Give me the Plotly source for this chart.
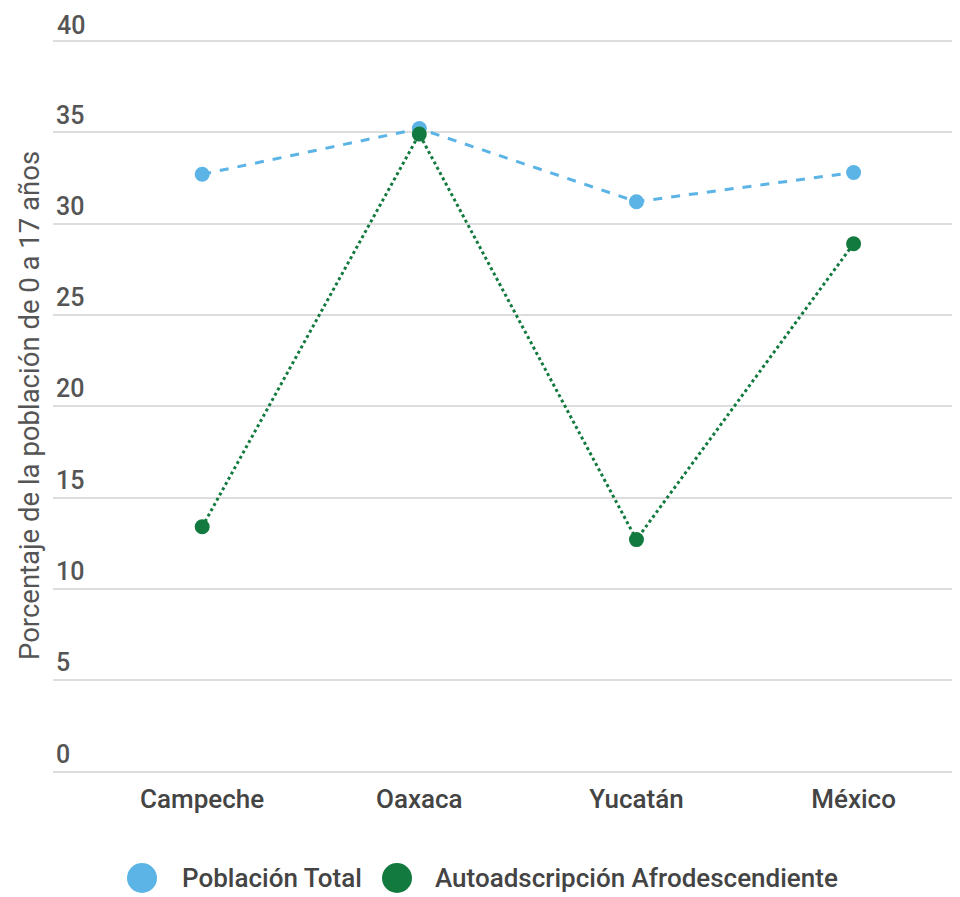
import plotly.graph_objects as go

categories = ["Campeche", "Oaxaca", "Yucatán", "México"]
poblacion_total = [32.7, 35.2, 31.2, 32.8]
afrodescendiente = [13.4, 34.9, 12.7, 28.9]
y_ticks = [0, 5, 10, 15, 20, 25, 30, 35, 40]
series_names = ["Población Total", "Autoadscripción Afrodescendiente"]

BLUE = "#5BB4E5"
GREEN = "#127A3E"
FONT = "Roboto, sans-serif"

# page is offset 8px by the browser's default body margin
W, H = 952, 889
ML, MR, MT, MB = 45, 0, 4, 124
PW, PH = W - ML - MR, H - MT - MB
Y_TOP = 40 + 29 / 18.3


def px_x(x):
    return (x - ML) / PW


def px_y(y):
    return (H - MB - y) / PH


fig = go.Figure()
fig.add_trace(go.Scatter(x=categories, y=poblacion_total, mode="lines+markers", name=series_names[0],
                         line=dict(color=BLUE, dash="dash", width=3),
                         marker=dict(color=BLUE, size=15), showlegend=False))
fig.add_trace(go.Scatter(x=categories, y=afrodescendiente, mode="lines+markers", name=series_names[1],
                         line=dict(color=GREEN, dash="dot", width=3),
                         marker=dict(color=GREEN, size=15), showlegend=False))

TICK_FONT = dict(size=25, color="#555555", weight=500, family=FONT)

fig.update_layout(
    width=W, height=H,
    margin=dict(l=ML, r=MR, t=MT, b=MB),
    plot_bgcolor="white", paper_bgcolor="white",
    font=dict(family=FONT, size=24, color="#555555"),
    showlegend=False,
    xaxis=dict(type="category", range=[-0.687, 3.49], showgrid=False, zeroline=False,
               showline=False, ticks="", ticklabelstandoff=8,
               tickfont=dict(size=26, color="#444444", weight=500)),
    yaxis=dict(range=[-0.08, Y_TOP], tickvals=y_ticks, ticklabelposition="inside top",
               showgrid=True, gridcolor="#DDDDDD", gridwidth=1.5, zeroline=False,
               showline=False, tickfont=TICK_FONT),
)

# the top tick label sits too close to the edge for plotly to keep it; place it explicitly
fig.add_annotation(text=str(y_ticks[-1]), xref="paper", yref="y", x=0, y=y_ticks[-1],
                   xanchor="left", yanchor="bottom", xshift=2, yshift=-1, showarrow=False,
                   font=TICK_FONT)

# y-axis title
fig.add_annotation(text="Porcentaje de la población de 0 a 17 años", xref="paper", yref="paper",
                   x=px_x(22), y=px_y(398), textangle=-90, showarrow=False,
                   xanchor="center", yanchor="middle",
                   font=dict(size=27.5, color="#555555", family=FONT))

# legend (drawn manually for large circular swatches)
legend_items = [(series_names[0], BLUE, 134, 172), (series_names[1], GREEN, 389, 425)]
for name, color, cx, tx in legend_items:
    fig.add_shape(type="circle", xref="paper", yref="paper", xsizemode="pixel", ysizemode="pixel",
                  xanchor=px_x(cx), yanchor=px_y(870), x0=-15, x1=15, y0=-15, y1=15,
                  fillcolor=color, line=dict(width=0))
    fig.add_annotation(text=name, xref="paper", yref="paper", x=px_x(tx), y=px_y(870),
                       xanchor="left", yanchor="middle", showarrow=False,
                       font=dict(size=26, color="#444444", weight=500, family=FONT))

fig.write_html("out.html")
